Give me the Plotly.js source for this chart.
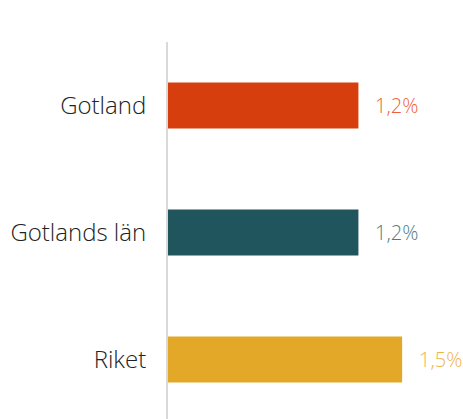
<!DOCTYPE html>
<html>
<head>
<meta charset="utf-8">
<script src="https://cdn.plot.ly/plotly-3.0.1.min.js"></script>
<style>html,body{margin:0;padding:0;background:#fff;}#chart{width:463px;height:419px;}</style>
</head>
<body>
<div id="chart"></div>
<script>
var categories = ["Gotland", "Gotlands län", "Riket"];
var values = [1.22, 1.22, 1.5];
var labels = ["1,2%", "1,2%", "1,5%"];
var barColors = ["#D63E0E", "#20555E", "#E3A828"];
var labelColors = ["#EC6236", "#4E7C85", "#EEB447"];

var FONT = "'Open Sans', 'Noto Sans', sans-serif";

var trace = {
  type: "bar",
  orientation: "h",
  y: categories,
  x: values,
  marker: {color: barColors},
  hoverinfo: "none"
};

var annotations = categories.map(function (c, i) {
  return {
    x: values[i], y: c, xref: "x", yref: "y",
    text: labels[i], showarrow: false,
    xanchor: "left", yanchor: "middle", xshift: 15,
    font: {family: FONT, size: 20, color: labelColors[i], weight: 300}
  };
});

var layout = {
  width: 463, height: 419,
  margin: {l: 168, r: 0, t: 42, b: 0, pad: 0},
  paper_bgcolor: "#fff", plot_bgcolor: "#fff",
  bargap: 0.638,
  showlegend: false,
  xaxis: {range: [0, 1.89], visible: false, fixedrange: true},
  yaxis: {
    type: "category",
    range: [2.469, -0.5],
    showline: true, linecolor: "#d9d9d9", linewidth: 2,
    showgrid: false, zeroline: false,
    ticks: "outside", ticklen: 15, tickcolor: "rgba(0,0,0,0)",
    tickfont: {family: FONT, size: 24, color: "#222", weight: 300}
  },
  annotations: annotations
};

Plotly.newPlot("chart", [trace], layout, {staticPlot: true, displayModeBar: false});
</script>
</body>
</html>
